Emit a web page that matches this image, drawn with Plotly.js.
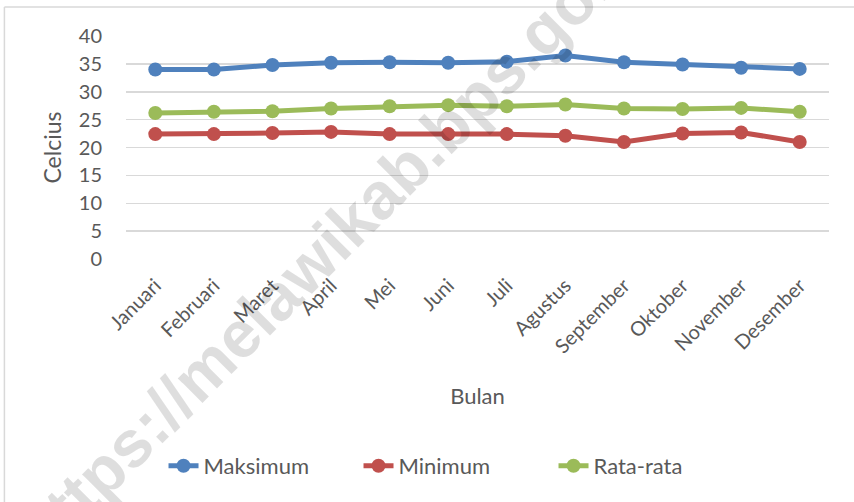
<!DOCTYPE html>
<html>
<head>
<meta charset="utf-8">
<script src="https://cdn.plot.ly/plotly-3.0.1.min.js"></script>
<style>
  html, body { margin: 0; padding: 0; background: #ffffff; }
  #chart { width: 854px; height: 502px; }
</style>
</head>
<body>
<div id="chart"></div>
<script>
const months = ["Januari", "Februari", "Maret", "April", "Mei", "Juni", "Juli", "Agustus", "September", "Oktober", "November", "Desember"];
const maksimum = [34.0, 34.0, 34.8, 35.2, 35.3, 35.2, 35.4, 36.5, 35.3, 34.9, 34.3, 34.1];
const minimum  = [22.4, 22.4, 22.6, 22.8, 22.4, 22.4, 22.4, 22.1, 21.0, 22.5, 22.7, 21.0];
const rataRata = [26.2, 26.4, 26.5, 27.0, 27.4, 27.6, 27.4, 27.7, 27.0, 26.9, 27.1, 26.4];
const seriesNames = ["Maksimum", "Minimum", "Rata-rata"];
const seriesColors = ["#4F81BD", "#C0504D", "#9BBB59"];
const yTicks = [0, 5, 10, 15, 20, 25, 30, 35, 40];

const FONT = "Lato, 'Open Sans', sans-serif";
const TXT = "#595959";

const data = [maksimum, minimum, rataRata].map((vals, i) => ({
  type: "scatter",
  mode: "lines+markers",
  name: seriesNames[i],
  x: months,
  y: vals,
  line: { color: seriesColors[i], width: 5 },
  marker: { color: seriesColors[i], size: 14 }
}));

const L = 125.7, R = 829.3, T = 36, B = 259;
const W = R - L, H = B - T;
const px = v => (v - L) / W;
const py = v => (B - v) / H;

const layout = {
  width: 854,
  height: 502,
  margin: { l: L, r: 854 - R, t: T, b: 502 - B },
  paper_bgcolor: "#ffffff",
  plot_bgcolor: "#ffffff",
  font: { family: FONT, color: TXT, size: 18 },
  showlegend: true,
  legend: {
    orientation: "h",
    x: px(456), xanchor: "center",
    y: py(466), yanchor: "middle",
    font: { family: FONT, size: 22, color: TXT },
    entrywidth: 150,
    entrywidthmode: "pixels",
    traceorder: "normal"
  },
  xaxis: {
    type: "category",
    range: [-0.5, 11.5],
    tickangle: -45,
    showgrid: false,
    showline: false,
    zeroline: false,
    ticks: "",
    ticklabelstandoff: 10,
    tickfont: { family: FONT, size: 20, color: TXT },
    title: { text: "Bulan", font: { family: FONT, size: 22, color: TXT }, standoff: 32 },
    fixedrange: true
  },
  yaxis: {
    range: [0, 40],
    tickvals: yTicks,
    ticktext: yTicks.map(String),
    showgrid: true,
    gridcolor: "#d9d9d9",
    gridwidth: 1.5,
    zeroline: false,
    showline: false,
    ticks: "",
    ticklabelstandoff: 23,
    tickfont: { family: FONT, size: 20, color: TXT },
    title: { text: "Celcius", font: { family: FONT, size: 23, color: TXT }, standoff: 10 },
    fixedrange: true
  },
  shapes: [
    { type: "line", xref: "paper", yref: "paper", x0: px(4), x1: px(4), y0: py(7), y1: py(510), line: { color: "#d9d9d9", width: 1.5 } },
    { type: "line", xref: "paper", yref: "paper", x0: px(4), x1: px(860), y0: py(7), y1: py(7), line: { color: "#d9d9d9", width: 1.5 } }
  ],
  annotations: [
    {
      xref: "paper", yref: "paper",
      x: px(333), y: py(240),
      xanchor: "center", yanchor: "middle",
      text: "<b>https://melawikab.bps.go.id</b>",
      showarrow: false,
      textangle: -45,
      font: { family: "'Liberation Sans', Arial, sans-serif", size: 66, color: "rgba(0,0,0,0.13)" }
    }
  ]
};

Plotly.newPlot("chart", data, layout, { displayModeBar: false, staticPlot: true });
</script>
</body>
</html>
